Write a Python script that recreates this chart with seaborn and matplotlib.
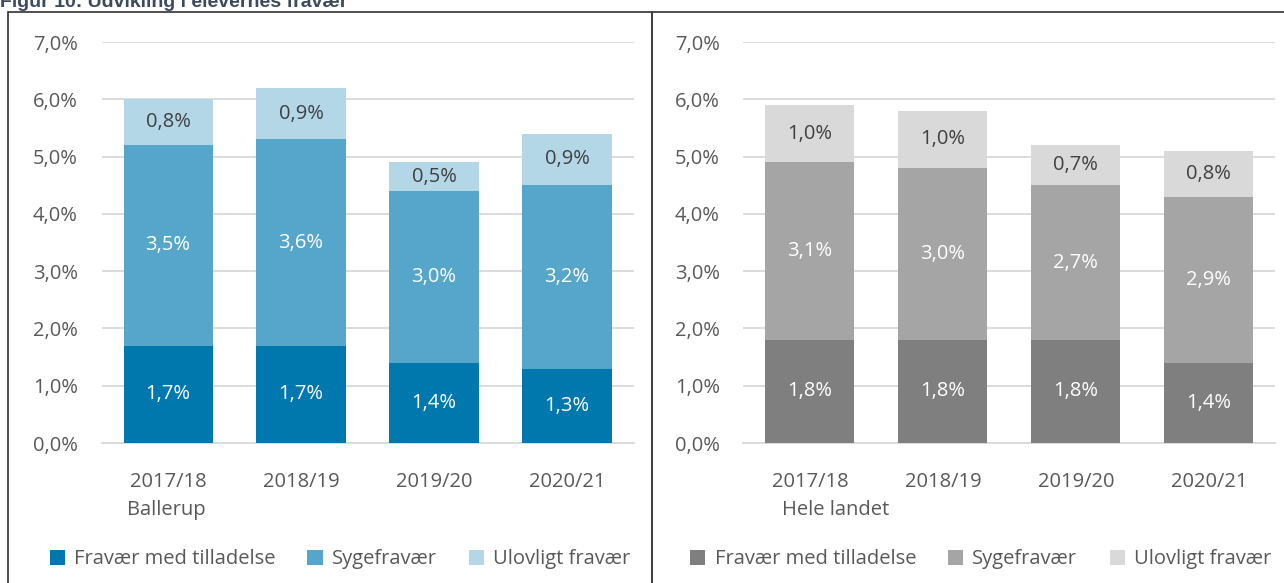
import numpy as np
import pandas as pd
import matplotlib
matplotlib.use("Agg")
import matplotlib.pyplot as plt
from matplotlib.patches import Patch, Rectangle
import seaborn as sns

## data

years = ["2017/18", "2018/19", "2019/20", "2020/21"]
series = ["Fravær med tilladelse", "Sygefravær", "Ulovligt fravær"]

ballerup_tilladelse = [1.7, 1.7, 1.4, 1.3]
ballerup_syge = [3.5, 3.6, 3.0, 3.2]
ballerup_ulovligt = [0.8, 0.9, 0.5, 0.9]

landet_tilladelse = [1.8, 1.8, 1.8, 1.4]
landet_syge = [3.1, 3.0, 2.7, 2.9]
landet_ulovligt = [1.0, 1.0, 0.7, 0.8]

y_ticks = [0, 1, 2, 3, 4, 5, 6, 7]

blue_colors = ["#0078AE", "#56A6CC", "#B3D7E7"]
grey_colors = ["#7F7F7F", "#A5A5A5", "#D9D9D9"]
label_colors = ["white", "white", "#404040"]

## style

sns.set_style("white")
plt.rcParams["font.family"] = ["Open Sans", "DejaVu Sans"]
text_col = "#595959"
grid_col = "#D9D9D9"
fs = 14.5

fig = plt.figure(figsize=(12.84, 5.83), dpi=100)
ax_l = fig.add_axes([0.0791, 0.2401, 0.4143, 0.6878])
ax_r = fig.add_axes([0.5790, 0.2401, 0.4143, 0.6878])


def fmt(v):
    return f"{v:.1f}".replace(".", ",") + "%"


def stacked(ax, layers, colors, group_label, label_x, leg_x):
    df = pd.DataFrame({"year": years})
    for name, vals in zip(series, layers):
        df[name] = vals
    cum = df[series].cumsum(axis=1)
    # draw back to front so each layer covers the one above it
    for i in reversed(range(len(series))):
        sns.barplot(x=df["year"], y=cum[series[i]], color=colors[i], width=0.67,
                    saturation=1, linewidth=0, ax=ax, zorder=3)
    for i, name in enumerate(series):
        for j in range(len(years)):
            mid = cum[name][j] - df[name][j] / 2
            ax.text(j, mid, fmt(df[name][j]), ha="center", va="center",
                    fontsize=fs, color=label_colors[i], zorder=4)

    ax.set_ylim(0, 7)
    ax.set_xlim(-0.5, 3.5)
    ax.set_yticks(y_ticks)
    ax.set_yticklabels([f"{t},0%" for t in y_ticks], fontsize=fs, color=text_col)
    ax.set_xticks(range(len(years)))
    ax.set_xticklabels(years, fontsize=fs, color=text_col)
    ax.set_xlabel("")
    ax.set_ylabel("")
    ax.tick_params(axis="both", length=0)
    ax.tick_params(axis="y", pad=17)
    ax.tick_params(axis="x", pad=21)
    ax.yaxis.grid(True, color=grid_col, linewidth=1.3, zorder=0)
    ax.set_axisbelow(True)
    for s in ["left", "right", "top"]:
        ax.spines[s].set_visible(False)
    ax.spines["bottom"].set_color(grid_col)
    ax.spines["bottom"].set_linewidth(1.3)
    ax.text(label_x, -0.143, group_label, transform=ax.get_xaxis_transform(),
            ha="left", va="top", fontsize=fs, color=text_col)

    handles = [Patch(facecolor=c, edgecolor="none") for c in colors]
    ax.legend(handles, series, loc="upper center", bbox_to_anchor=(leg_x, -0.22),
              ncol=3, frameon=False, fontsize=fs, handlelength=0.75,
              handleheight=0.75, handletextpad=0.45, columnspacing=1.6,
              labelcolor=text_col)


stacked(ax_l, [ballerup_tilladelse, ballerup_syge, ballerup_ulovligt],
        blue_colors, "Ballerup", -0.31, 0.448)
stacked(ax_r, [landet_tilladelse, landet_syge, landet_ulovligt],
        grey_colors, "Hele landet", -0.21, 0.446)

## frames and cut-off heading

box_col = "#404040"
fig.patches.append(Rectangle((8 / 1284, -0.1), (652 - 8) / 1284, 1.1 - 12 / 583,
                             transform=fig.transFigure, fill=False,
                             edgecolor=box_col, linewidth=1.3))
fig.patches.append(Rectangle((652 / 1284, -0.1), (1290 - 652) / 1284, 1.1 - 12 / 583,
                             transform=fig.transFigure, fill=False,
                             edgecolor=box_col, linewidth=1.3))
fig.text(0.0, 1 - 7 / 583, "Figur 10: Udvikling i elevernes fravær",
         family="Liberation Sans", fontweight="bold", fontsize=14,
         color="#3B4A5C", ha="left", va="baseline")

fig.savefig("out.png", dpi=100)
